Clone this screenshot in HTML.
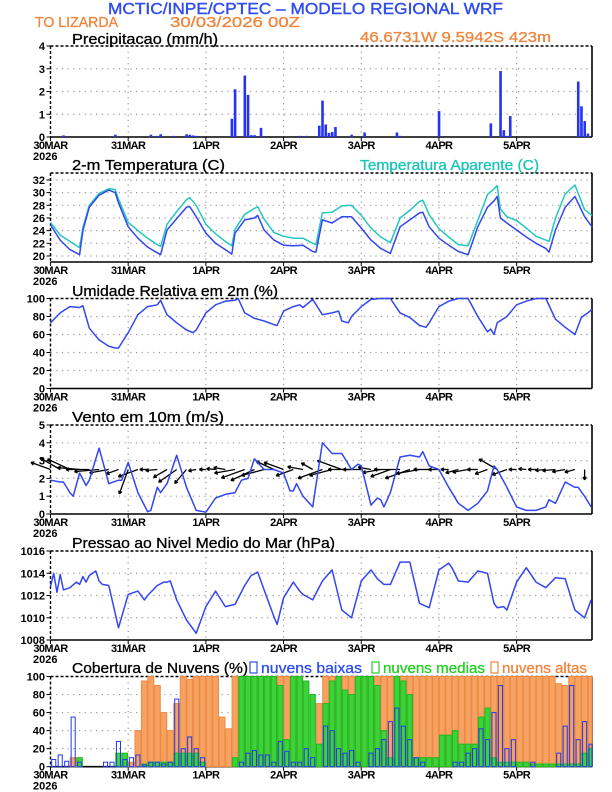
<!DOCTYPE html>
<html><head><meta charset="utf-8"><style>
html,body{margin:0;padding:0;background:#fff}
svg{display:block;font-family:"Liberation Sans",sans-serif}
</style></head><body>
<svg id="chart" width="612" height="792" viewBox="0 0 612 792" xmlns="http://www.w3.org/2000/svg">
<rect width="612" height="792" fill="#fff"/>
<text x="108" y="14" font-size="16" fill="#2d4cf2" stroke="#2d4cf2" stroke-width="0.4" textLength="395" lengthAdjust="spacingAndGlyphs">MCTIC/INPE/CPTEC – MODELO REGIONAL WRF</text>
<text x="35" y="27" font-size="15" fill="#f0843a" stroke="#f0843a" stroke-width="0.3" textLength="83" lengthAdjust="spacingAndGlyphs">TO LIZARDA</text>
<text x="170" y="27" font-size="15" fill="#f0843a" stroke="#f0843a" stroke-width="0.3" textLength="130" lengthAdjust="spacingAndGlyphs">30/03/2026 00Z</text>
<text x="360" y="42" font-size="15" fill="#f0843a" stroke="#f0843a" stroke-width="0.3" textLength="191" lengthAdjust="spacingAndGlyphs">46.6731W 9.5942S 423m</text>
<g id="g"></g>
</svg>
<script>
// ---------- data ----------
const dayLabels = ["30MAR","31MAR","1APR","2APR","3APR","4APR","5APR"];
const precipHours = [4,20,31,33,34,38,42,43,44,45,56,57,60,61,62,63,65,77,79,83,84,85,86,87,88,93,97,107,108,120,136,139,140,141,142,163,164,165,166];
const precipVals  = [0.07,0.1,0.1,0.05,0.12,0.05,0.12,0.1,0.07,0.05,0.8,2.1,2.7,1.85,0.08,0.08,0.4,0.05,0.05,0.5,1.6,0.55,0.18,0.22,0.44,0.1,0.2,0.2,0.05,1.14,0.6,2.9,0.3,0.05,0.92,2.44,1.35,0.7,0.15];
const tempHours = [0,3,6,9,10,12,15,18,20,21,24,27,30,33,34,36,39,42,43,45,48,51,54,56,57,60,63,64,66,69,72,75,78,81,82,84,87,90,93,96,99,102,105,108,111,114,115,117,120,123,126,129,132,135,137,138,139,141,144,147,150,153,154,156,159,162,165,168];
const tempVals = [24.9,22.5,21,20.2,24,27.7,29.6,30.4,30,28.4,24.6,22.8,21.4,20.5,20.2,24.1,25.9,27.7,27.8,26.2,23.6,22,21,20.3,23.6,25.7,26,26.4,24.1,22.5,21.7,21.6,21.7,20.7,20.6,25.7,25.2,26.2,26.2,24.4,22.5,21.2,20.4,24.6,25.7,26.8,26.9,24.6,22.8,21.7,20.7,20.2,24.6,27.7,28.7,29.4,26,25.2,24.1,23,22,21.2,20.6,24.1,27.7,29.4,26.2,24.6];
const appTempVals = [25.3,23.3,22.3,21.3,24.5,28,29.9,30.6,30.5,29,25.3,24,22.8,21.8,21.5,25,27,28.9,29.2,28,25,23.5,22.3,21.6,24.2,26.6,27.5,27.8,25.8,23.7,23.1,22.8,22.8,22,21.8,26.8,26.9,27.9,28,26.4,24.4,23,22.1,26,27.2,28.6,28.8,26.5,24.3,23,21.8,21.6,25.6,29.7,30.6,31.1,27.4,26.2,25.6,24.4,23.1,22.5,22.3,26,29.8,31.2,27.3,26.4];
const rhHours = [0,3,6,9,10,12,15,18,20,21,24,27,30,33,34,36,39,42,44,45,48,51,54,57,58,60,63,66,69,70,72,75,77,78,81,84,87,89,90,92,93,96,99,102,105,108,111,114,116,117,120,123,126,129,132,135,136,137,138,141,144,147,150,153,156,159,162,164,166,168];
const rhVals = [73,84,91,90,92,67,54,47,45,45,62,82,91,93,98,82,73,65,62,65,84,93,97,98,100,84,78,75,71,70,86,91,93,90,99,82,84,86,75,73,80,91,99,100,100,84,79,70,68,73,91,97,100,100,80,63,66,60,73,80,93,97,100,100,77,68,60,79,84,88];
const windHours = [0,3,4,6,7,9,11,12,15,18,21,22,24,27,30,31,33,34,36,39,42,45,48,51,54,57,59,61,63,66,69,72,74,75,76,78,81,84,87,90,93,95,96,99,101,102,103,105,108,111,114,115,117,120,123,126,129,132,135,137,138,141,144,147,150,153,154,156,159,162,163,165,167];
const windVals = [1.9,1.8,1.8,1.2,1.0,2.3,1.6,1.9,3.7,1.7,1.9,1.9,2.9,1.2,0.13,0.2,1.5,1.2,1.7,3.3,1.5,0.2,0.1,0.9,1.1,1.2,1.9,2.0,3.1,2.5,2.5,2.3,1.3,1.3,1.7,1.0,0.4,4.0,3.4,3.4,2.5,2.8,2.7,0.5,0.9,0.8,0.4,1.2,3.2,3.3,3.2,3.5,2.7,2.5,1.5,0.6,0.2,0.6,1.3,2.7,2.5,1.5,0.4,0.2,0.2,0.4,0.8,0.6,1.8,1.5,1.5,1.0,0.4];
const arrowHours = [0,3,6,9,12,15,18,21,24,27,30,33,36,39,42,45,48,51,54,57,60,63,66,69,72,75,78,81,84,87,90,93,96,99,102,105,108,111,114,117,120,123,126,129,132,135,138,141,144,147,150,153,156,159,162,165];
const arrowDirs = [160,150,155,175,180,185,190,200,250,200,180,185,210,215,230,190,180,175,170,190,200,205,195,155,160,200,170,150,200,195,160,180,180,170,190,200,180,200,190,180,180,180,195,190,180,200,150,200,180,175,180,185,185,190,195,270];
const arrowLens = [1.6,1.8,1.9,1.7,1.8,1.9,1.5,1.0,2.0,1.6,0.6,0.9,1.2,1.7,1.4,0.6,0.5,0.7,0.9,1.6,1.9,2.0,1.8,1.5,1.6,1.4,1.2,1.0,2.0,1.8,2.0,1.8,1.4,1.0,1.4,1.6,2.0,2.0,1.8,1.2,0.8,0.6,1.0,1.2,0.8,1.0,1.6,1.2,0.6,0.6,0.6,0.8,1.0,1.0,0.8,0.8];
const presHours = [0,1,2,3,4,6,8,9,10,11,12,14,15,16,18,21,24,27,29,30,33,35,36,37,39,42,45,48,51,54,57,60,62,64,66,69,70,72,75,77,78,81,84,87,90,93,96,99,101,103,105,108,111,114,117,120,123,124,126,129,132,135,137,138,140,141,144,147,150,153,156,159,162,165,167];
const presVals = [1012.8,1014,1012.3,1013.9,1012.5,1012.7,1013.2,1013,1013.7,1013.2,1013.8,1014.2,1013.3,1013,1012.9,1009.1,1012.1,1012.4,1011.6,1012,1012.9,1013.2,1013.2,1013.3,1011.6,1009.8,1008.6,1011,1012.4,1011,1011.2,1012.9,1013.8,1014.1,1012.5,1010.1,1009.4,1011.8,1013.2,1012.4,1012.1,1011.6,1013.3,1014.3,1010.7,1010,1013.3,1014.3,1013.5,1013,1013,1015,1015,1011.3,1010.9,1014.3,1014.9,1014.5,1013.3,1013.2,1014.2,1014,1011.3,1010.9,1011,1010.7,1013.2,1014.5,1013.2,1012.7,1013.6,1013.5,1010.7,1010,1011.6];
// clouds: 2-hourly bins starting at hour 0
const cloudHigh = [0,0,0,10,0,0,0,0,0,0,0,0,5,40,95,100,90,60,40,70,100,97,100,100,100,100,55,42,100,100,93,100,100,100,100,100,100,100,100,0,0,70,100,100,100,100,100,100,100,100,100,100,100,100,100,100,100,100,100,100,100,100,100,100,100,100,100,100,100,100,100,100,100,100,100,100,100,100,92,90,100,100,100,100];
const cloudMid = [0,0,0,0,10,0,0,0,0,0,15,15,0,0,3,5,5,5,5,15,15,15,15,5,0,0,0,0,10,100,100,100,100,100,100,90,30,100,100,95,80,25,70,95,100,85,80,100,100,100,90,40,10,100,95,80,10,10,10,10,35,35,40,25,25,25,55,65,10,5,5,5,5,5,3,3,3,3,3,3,3,3,15,20];
const cloudLow = [8,13,6,55,5,0,0,0,5,5,28,8,10,13,2,5,5,3,5,75,20,33,20,10,0,0,0,0,0,5,15,18,13,13,5,28,17,5,5,20,10,0,45,40,20,15,18,5,0,15,20,30,50,65,45,30,10,5,0,0,0,0,5,5,15,20,42,30,60,90,20,30,0,0,5,0,0,0,15,45,90,30,50,25];

// ---------- layout ----------
const NS = "http://www.w3.org/2000/svg";
const g = document.getElementById('g');
const X0 = 50.5, XR = 592, PXH = 3.237;
function xh(h){ return X0 + h*PXH; }
function mk(tag, attrs, parent){ const e=document.createElementNS(NS,tag); for(const k in attrs) e.setAttribute(k,attrs[k]); (parent||g).appendChild(e); return e; }
function ys(p){ return v => p.bot - (v - p.min)/(p.max - p.min)*(p.bot - p.top); }

const panels = [
 {key:'precip', top:46, bot:137, min:0, max:4, ticks:[0,1,2,3,4]},
 {key:'temp', top:173, bot:262, min:19.05, max:33.1, ticks:[20,22,24,26,28,30,32]},
 {key:'rh', top:298.5, bot:388.5, min:0, max:100, ticks:[0,20,40,60,80,100]},
 {key:'wind', top:425, bot:514, min:0, max:5, ticks:[0,1,2,3,4,5]},
 {key:'pres', top:551, bot:640, min:1008, max:1016, ticks:[1008,1010,1012,1014,1016]},
 {key:'cloud', top:676.5, bot:766.7, min:0, max:100, ticks:[0,20,40,60,80,100]}
];

function drawFrame(p){
  const y = ys(p);
  const grp = mk('g',{});
  
  
  p.ticks.forEach(t=>{
    const yy=y(t);
    if(yy>p.top+1 && yy<p.bot-1){
      const ln = mk('line',{x1:X0,x2:XR,y1:yy,y2:yy,stroke:'#999','stroke-width':1.2,'stroke-dasharray':'1.2 4.5'},grp);
      
      
    }
    const tl = mk('text',{x:45,y:yy+4,'font-size':11,'text-anchor':'end',fill:'#000','font-weight':'bold'},grp);
    
    
    tl.textContent=t;
    mk('line',{x1:X0-4,x2:X0,y1:yy,y2:yy,stroke:'#000','stroke-width':1},grp);
  });
  dayLabels.forEach((d,i)=>{
    const xx = xh(i*24);
    if(i>0){
      const ln = mk('line',{x1:xx,x2:xx,y1:p.top,y2:p.bot,stroke:'#999','stroke-width':1.2,'stroke-dasharray':'1.2 4.5'},grp);
      
      
    }
    mk('line',{x1:xx,x2:xx,y1:p.bot,y2:p.bot+4,stroke:'#000','stroke-width':1},grp);
    const tl = mk('text',{x:xx,y:p.bot+12,'font-size':11,'text-anchor':'middle',fill:'#000','font-weight':'bold','letter-spacing':'-0.6'},grp);
    
    
    tl.textContent=d;
  });
  const yr = mk('text',{x:33,y:p.bot+23,'font-size':11,fill:'#000','font-weight':'bold'},grp);
  
  
  yr.textContent='2026';
  mk('line',{x1:X0,x2:XR,y1:p.top,y2:p.top,stroke:'#000','stroke-width':1.4,'stroke-dasharray':'3 2'},grp);
  mk('line',{x1:X0,x2:X0,y1:p.top,y2:p.bot,stroke:'#000','stroke-width':1.4,'stroke-dasharray':'3 2'},grp);
  mk('line',{x1:XR,x2:XR,y1:p.top,y2:p.bot,stroke:'#000','stroke-width':1.6},grp);
  mk('line',{x1:X0,x2:XR,y1:p.bot,y2:p.bot,stroke:'#000','stroke-width':1.6},grp);
}
function title(txt,x,yb,w,col,name){
  const t = mk('text',{x:x,y:yb,'font-size':15,fill:col,stroke:col,'stroke-width':0.3,textLength:w,lengthAdjust:'spacingAndGlyphs'});
  
  
  t.textContent=txt; return t;
}
function line(p,hours,vals,col,name){
  const y=ys(p);
  const pts = hours.map((h,i)=>Math.min(xh(h),XR).toFixed(1)+','+y(vals[i]).toFixed(1)).join(' ');
  const pl = mk('polyline',{points:pts,fill:'none',stroke:col,'stroke-width':1.5,'stroke-linejoin':'round'});
  
  
}

panels.forEach(drawFrame);
const P = {}; panels.forEach(p=>P[p.key]=p);

// titles
title('Precipitacao (mm/h)',72,44,146,'#000','precip-title');
title('2-m Temperatura (C)',72,170,153,'#000','temp-title');
title('Temperatura Aparente (C)',360,170,179,'#19c4b8','apparent-temp-legend');
title('Umidade Relativa em 2m (%)',72,296,206,'#000','rh-title');
title('Vento em 10m (m/s)',72,422,152,'#000','wind-title');
title('Pressao ao Nivel Medio do Mar (hPa)',72,548,263,'#000','pressure-title');
title('Cobertura de Nuvens (%)',72,673,176,'#000','cloud-title');
[['#2d4cf2','nuvens baixas',250,101,'legend-low-clouds'],['#22d022','nuvens medias',372,102,'legend-mid-clouds'],['#f0843a','nuvens altas',491,85,'legend-high-clouds']].forEach(l=>{
  const b = mk('rect',{x:l[2],y:662,width:7,height:11,fill:'none',stroke:l[0],'stroke-width':1.2});
  
  
  title(l[1],l[2]+11,673,l[3],l[0],l[4]);
});

// precipitation bars
(function(){
  const p=P.precip, y=ys(p);
  precipHours.forEach((h,i)=>{
    const r = mk('rect',{x:xh(h)-1.2,y:y(precipVals[i]),width:2.6,height:p.bot-y(precipVals[i]),fill:'#2433f5'});
    
    
  });
})();

// temperature
line(P.temp,tempHours,appTempVals,'#22c8be','apparent-temp-line');
line(P.temp,tempHours,tempVals,'#3346f0','temp-line');
// RH
line(P.rh,rhHours,rhVals,'#3346f0','rh-line');

// wind arrows
(function(){
  const p=P.wind, y=ys(p), y0=y(2.5);
  arrowHours.forEach((h,i)=>{
    const a = arrowDirs[i]*Math.PI/180, L = arrowLens[i]*13;
    const x1=xh(h), x2=x1+Math.cos(a)*L, y2=y0-Math.sin(a)*L;
    const grp = mk('g',{stroke:'#000','stroke-width':1.3,fill:'none'});
    
    
    mk('line',{x1:x1,y1:y0,x2:x2,y2:y2},grp);
    const hl=3.5;
    [a+Math.PI-0.5,a+Math.PI+0.5].forEach(b=>mk('line',{x1:x2,y1:y2,x2:x2+Math.cos(b)*hl,y2:y2-Math.sin(b)*hl},grp));
  });
})();
line(P.wind,windHours,windVals,'#3346f0','wind-speed-line');
// pressure
line(P.pres,presHours,presVals,'#3346f0','pressure-line');

// clouds
(function(){
  const p=P.cloud, y=ys(p), w=2*PXH;
  function bars(arr,fill,stroke,name,shrink){
    arr.forEach((v,i)=>{
      if(v<=0) return;
      const x = xh(i*2)+shrink, ww = Math.min(w-2*shrink, XR-x);
      if(ww<=0) return;
      const r = mk('rect',{x:x,y:y(v),width:ww,height:p.bot-y(v),fill:fill,stroke:stroke,'stroke-width':1});
      
      
    });
  }
  bars(cloudHigh,'#f5a263','#ee8a40','cloud-high-bar',0.3);
  bars(cloudMid,'#3ad43a','#1fb81f','cloud-mid-bar',0.6);
  bars(cloudLow,'none','#2338f0','cloud-low-bar',1.2);
})();
</script>
</body></html>
